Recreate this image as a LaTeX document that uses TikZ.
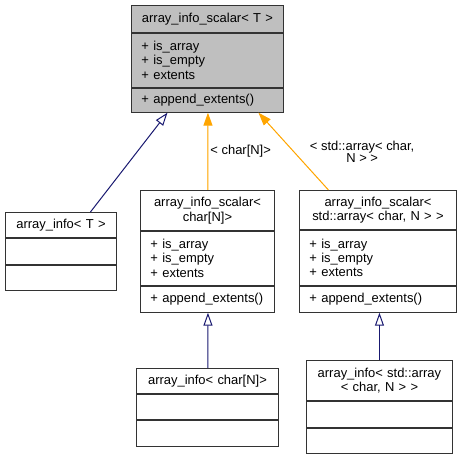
\documentclass[tikz,border=0pt]{standalone}
\usepackage{fontspec}
\setmainfont{Liberation Sans}
\usetikzlibrary{arrows.meta,positioning}

\tikzset{
  sect/.style={draw=black!80, line width=0.9bp, anchor=north west, inner sep=0pt,
    font=\fontsize{13}{14.5}\selectfont},
  title/.style={sect, align=center, text width=#1, minimum width=#1},
  body/.style={sect, align=left, inner xsep=10bp, text width=#1-20bp, minimum width=#1},
  base/.style={fill=gray!50},
  inherit/.style={draw={rgb,255:red,25;green,25;blue,112}, line width=1bp,
    -{Triangle[open,length=13bp,width=9bp]}},
  usage/.style={draw={rgb,255:red,255;green,165;blue,0}, line width=1bp,
    -{Triangle[length=13bp,width=9bp]}, fill={rgb,255:red,255;green,165;blue,0}},
  lbl/.style={font=\fontsize{13}{12}\selectfont, align=center, inner sep=2bp}
}

\begin{document}
\begin{tikzpicture}[x=1bp,y=-1bp]
\useasboundingbox (0,0) rectangle (465,457);

% array_info_scalar< T >
\node[title=152bp, base, minimum height=27bp] (st) at (131,5) {array\_info\_scalar< T >};
\node[body=152bp, base, minimum height=54bp] (sa) at (st.south west) {+ is\_array\\+ is\_empty\\+ extents};
\node[body=152bp, base, minimum height=24bp] (so) at (sa.south west) {+ append\_extents()};

% array_info< T >
\node[title=111bp, minimum height=25bp] (it) at (5,212) {array\_info< T >};
\node[body=111bp, minimum height=26bp] (ia) at (it.south west) {};
\node[body=111bp, minimum height=25bp] (io) at (ia.south west) {};

% array_info_scalar< char[N]>
\node[title=134bp, minimum height=40bp] (ct) at (140,190) {array\_info\_scalar<\\char[N]>};
\node[body=134bp, minimum height=54bp] (ca) at (ct.south west) {+ is\_array\\+ is\_empty\\+ extents};
\node[body=134bp, minimum height=26bp] (co) at (ca.south west) {+ append\_extents()};

% array_info_scalar< std::array< char, N > >
\node[title=157bp, minimum height=39bp] (at) at (299,190) {array\_info\_scalar<\\std::array< char, N > >};
\node[body=157bp, minimum height=55bp] (aa) at (at.south west) {+ is\_array\\+ is\_empty\\+ extents};
\node[body=157bp, minimum height=26bp] (ao) at (aa.south west) {+ append\_extents()};

% array_info< char[N]>
\node[title=142bp, minimum height=25bp] (cit) at (136,368) {array\_info< char[N]>};
\node[body=142bp, minimum height=25bp] (cia) at (cit.south west) {};
\node[body=142bp, minimum height=26bp] (cio) at (cia.south west) {};

% array_info< std::array< char, N > >
\node[title=146bp, minimum height=40bp] (ait) at (306,360) {array\_info< std::array\\< char, N > >};
\node[body=146bp, minimum height=26bp] (aia) at (ait.south west) {};
\node[body=146bp, minimum height=25bp] (aio) at (aia.south west) {};

% edges
\draw[inherit] ([xshift=29.5bp]it.north) -- ([xshift=-40bp]so.south);
\draw[usage] ([xshift=0.5bp]ct.north) -- node[lbl, right] {< char[N]>} ([xshift=0.5bp]so.south);
\draw[usage] ([xshift=-49.5bp]at.north) -- node[lbl, right=14bp] {< std::array< char,\\N > >} ([xshift=51bp]so.south);
\draw[inherit] ([xshift=0.5bp]cit.north) -- ([xshift=0.5bp]co.south);
\draw[inherit] (ait.north) -- (ait.north |- ao.south);
\end{tikzpicture}
\end{document}
